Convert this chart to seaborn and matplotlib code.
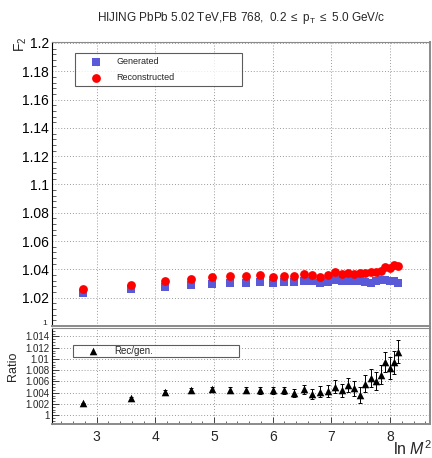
import matplotlib
matplotlib.use("Agg")
import matplotlib.pyplot as plt
import matplotlib.ticker as mticker
import seaborn as sns
import pandas as pd
import numpy as np

# ---- data ----
ln_m2 = [2.77, 3.58, 4.16, 4.61, 4.97, 5.28, 5.55, 5.79, 6.00, 6.19, 6.36, 6.53, 6.67, 6.81,
         6.94, 7.06, 7.18, 7.29, 7.39, 7.49, 7.58, 7.67, 7.76, 7.84, 7.92, 8.00, 8.07, 8.14]
f2_generated = [1.0231, 1.0261, 1.0278, 1.0289, 1.0296, 1.0306, 1.0306, 1.0313, 1.0306, 1.0311,
                1.0311, 1.0318, 1.0318, 1.0306, 1.0313, 1.0325, 1.0318, 1.0318, 1.0318, 1.0315,
                1.0313, 1.0306, 1.0318, 1.0322, 1.0325, 1.0318, 1.0320, 1.0306]
f2_reconstructed = [1.0259, 1.0292, 1.0320, 1.0334, 1.0344, 1.0353, 1.0355, 1.0360, 1.0348, 1.0355,
                    1.0353, 1.0365, 1.0358, 1.0348, 1.0358, 1.0381, 1.0365, 1.0376, 1.0370, 1.0372,
                    1.0376, 1.0379, 1.0381, 1.0390, 1.0415, 1.0410, 1.0428, 1.0426]
ratio = [1.0021, 1.0030, 1.0042, 1.0045, 1.0046, 1.0045, 1.0045, 1.0044, 1.0044, 1.0044,
         1.0040, 1.0046, 1.0038, 1.0042, 1.0043, 1.0051, 1.0044, 1.0054, 1.0048, 1.0036,
         1.0056, 1.0066, 1.0061, 1.0072, 1.0095, 1.0084, 1.0094, 1.0113]
ratio_err = [0.0001, 0.0002, 0.0003, 0.0003, 0.0004, 0.0005, 0.0005, 0.0006, 0.0007, 0.0007,
             0.0007, 0.0008, 0.0009, 0.0010, 0.0010, 0.0011, 0.0012, 0.0012, 0.0013, 0.0014,
             0.0015, 0.0016, 0.0016, 0.0017, 0.0018, 0.0019, 0.0020, 0.0021]

upper_ticks = [1.0, 1.02, 1.04, 1.06, 1.08, 1.1, 1.12, 1.14, 1.16, 1.18, 1.2]
lower_ticks = [1.0, 1.002, 1.004, 1.006, 1.008, 1.01, 1.012, 1.014]
x_ticks = [3, 4, 5, 6, 7, 8]

df = pd.DataFrame({"x": ln_m2, "gen": f2_generated, "rec": f2_reconstructed,
                   "ratio": ratio, "err": ratio_err})

sns.set_theme(style="white")
plt.rcParams["font.family"] = ["Liberation Sans", "DejaVu Sans"]
plt.rcParams["mathtext.fontset"] = "custom"
plt.rcParams["mathtext.rm"] = "Liberation Sans"
plt.rcParams["mathtext.it"] = "Liberation Sans:italic"

W, H = 432, 458
fig = plt.figure(figsize=(W / 100, H / 100), dpi=100)

def fx(px):
    return px / W

def fy(py):
    return 1 - py / H

L, R = 52, 430
ax1 = fig.add_axes([fx(L), fy(326), fx(R - L), (326 - 42) / H])
ax2 = fig.add_axes([fx(L), fy(424), fx(R - L), (424 - 328) / H])

BLUE = "#5a5ad8"
RED = "#ff0000"
GRID = dict(color="#9a9a9a", linestyle=(0, (1, 2)), linewidth=0.7)

# ---- upper panel ----
sns.scatterplot(data=df, x="x", y="gen", ax=ax1, marker="s", s=26, color=BLUE,
                linewidth=0, label="Generated", zorder=3)
sns.scatterplot(data=df, x="x", y="rec", ax=ax1, marker="o", s=40, color=RED,
                linewidth=0, label="Reconstructed", zorder=4)
ax1.set_xlim(2.24, 8.68)
ax1.set_ylim(1.0, 1.2007)
ax1.set_yticks(upper_ticks)
ax1.set_yticklabels([""] + ["%g" % t for t in upper_ticks[1:]])
ax1.yaxis.set_minor_locator(mticker.MultipleLocator(0.004))
ax1.set_xticks(x_ticks)
ax1.xaxis.set_minor_locator(mticker.MultipleLocator(0.2))
ax1.tick_params(axis="x", which="both", labelbottom=False, length=0)
ax1.tick_params(axis="y", which="major", direction="in", length=6, width=0.6,
                labelsize=10, pad=2, colors="black")
ax1.tick_params(axis="y", which="minor", direction="in", length=3, width=0.5, left=True)
ax1.grid(True, which="major", **GRID)
ax1.set_xlabel("")
ax1.set_ylabel("")
leg1 = ax1.legend(loc="lower left", bbox_to_anchor=(0.0608, 0.845, 0.4418, 0.116),
                  mode="expand", fontsize=6.5, frameon=True, fancybox=False,
                  borderpad=0.45, handlelength=3.8, handletextpad=0.35,
                  labelspacing=0.75, borderaxespad=0)
leg1.get_frame().set_edgecolor("#333333")
leg1.get_frame().set_linewidth(0.8)

# ---- lower panel ----
ax2.errorbar(df["x"], df["ratio"], yerr=df["err"], fmt="none", ecolor="black",
             elinewidth=0.7, capsize=1.5, capthick=0.7, zorder=3)
sns.scatterplot(data=df, x="x", y="ratio", ax=ax2, marker="^", s=30, color="black",
                linewidth=0, label="Rec/gen.", zorder=4)
ax2.set_xlim(2.24, 8.68)
ax2.set_ylim(0.99845, 1.0155)
ax2.set_yticks(lower_ticks)
ax2.set_yticklabels(["%g" % t for t in lower_ticks])
ax2.yaxis.set_minor_locator(mticker.MultipleLocator(0.0005))
ax2.set_xticks(x_ticks)
ax2.xaxis.set_minor_locator(mticker.MultipleLocator(0.2))
ax2.tick_params(axis="x", which="major", direction="in", length=5, width=0.6,
                labelsize=10, pad=4, bottom=True)
ax2.tick_params(axis="x", which="minor", direction="in", length=2.5, width=0.5, bottom=True)
ax2.tick_params(axis="y", which="major", direction="in", length=5, width=0.6,
                labelsize=7, pad=2, left=True)
ax2.tick_params(axis="y", which="minor", direction="in", length=2.5, width=0.5, left=True)
ax2.grid(True, which="major", **GRID)
ax2.set_xlabel("")
ax2.set_ylabel("")
leg2 = ax2.legend(loc="lower left", bbox_to_anchor=(0.0548, 0.70, 0.44, 0.122),
                  mode="expand", fontsize=7, frameon=True, fancybox=False,
                  borderpad=0.1, handlelength=4.0, handletextpad=0.15, borderaxespad=0)
leg2.get_frame().set_edgecolor("#333333")
leg2.get_frame().set_linewidth(0.8)

for ax in (ax1, ax2):
    ax.set_facecolor("white")
    ax.spines["left"].set_color("black")
    ax.spines["left"].set_linewidth(0.8)
    for s in ("right", "bottom"):
        ax.spines[s].set_color("#8a8a8a")
        ax.spines[s].set_linewidth(1.4)
    ax.spines["top"].set_color("#8a8a8a")
    ax.spines["top"].set_linewidth(0.8)

# ---- texts ----
fig.text(fx(241), fy(18), r"HIJING PbPb 5.02 TeV,FB 768,  0.2 $\leq$ p$_{\rm T}$ $\leq$ 5.0 GeV/c",
         ha="center", va="center", fontsize=8.5)
fig.text(fx(21), fy(37), r"F$_2$", rotation=90, ha="center", va="top", fontsize=10)
# bottom label "1" of the upper panel, mostly hidden behind the ratio panel in the reference
fig.text(fx(47), fy(327), "1", ha="right", va="bottom", fontsize=6)
fig.text(fx(13), fy(366), "Ratio", rotation=90, ha="center", va="center", fontsize=9)
fig.text(fx(432), fy(458), r"ln $\mathit{M}^{2}$", ha="right", va="bottom", fontsize=11.5)

fig.savefig("out.png", dpi=100, facecolor="white")
